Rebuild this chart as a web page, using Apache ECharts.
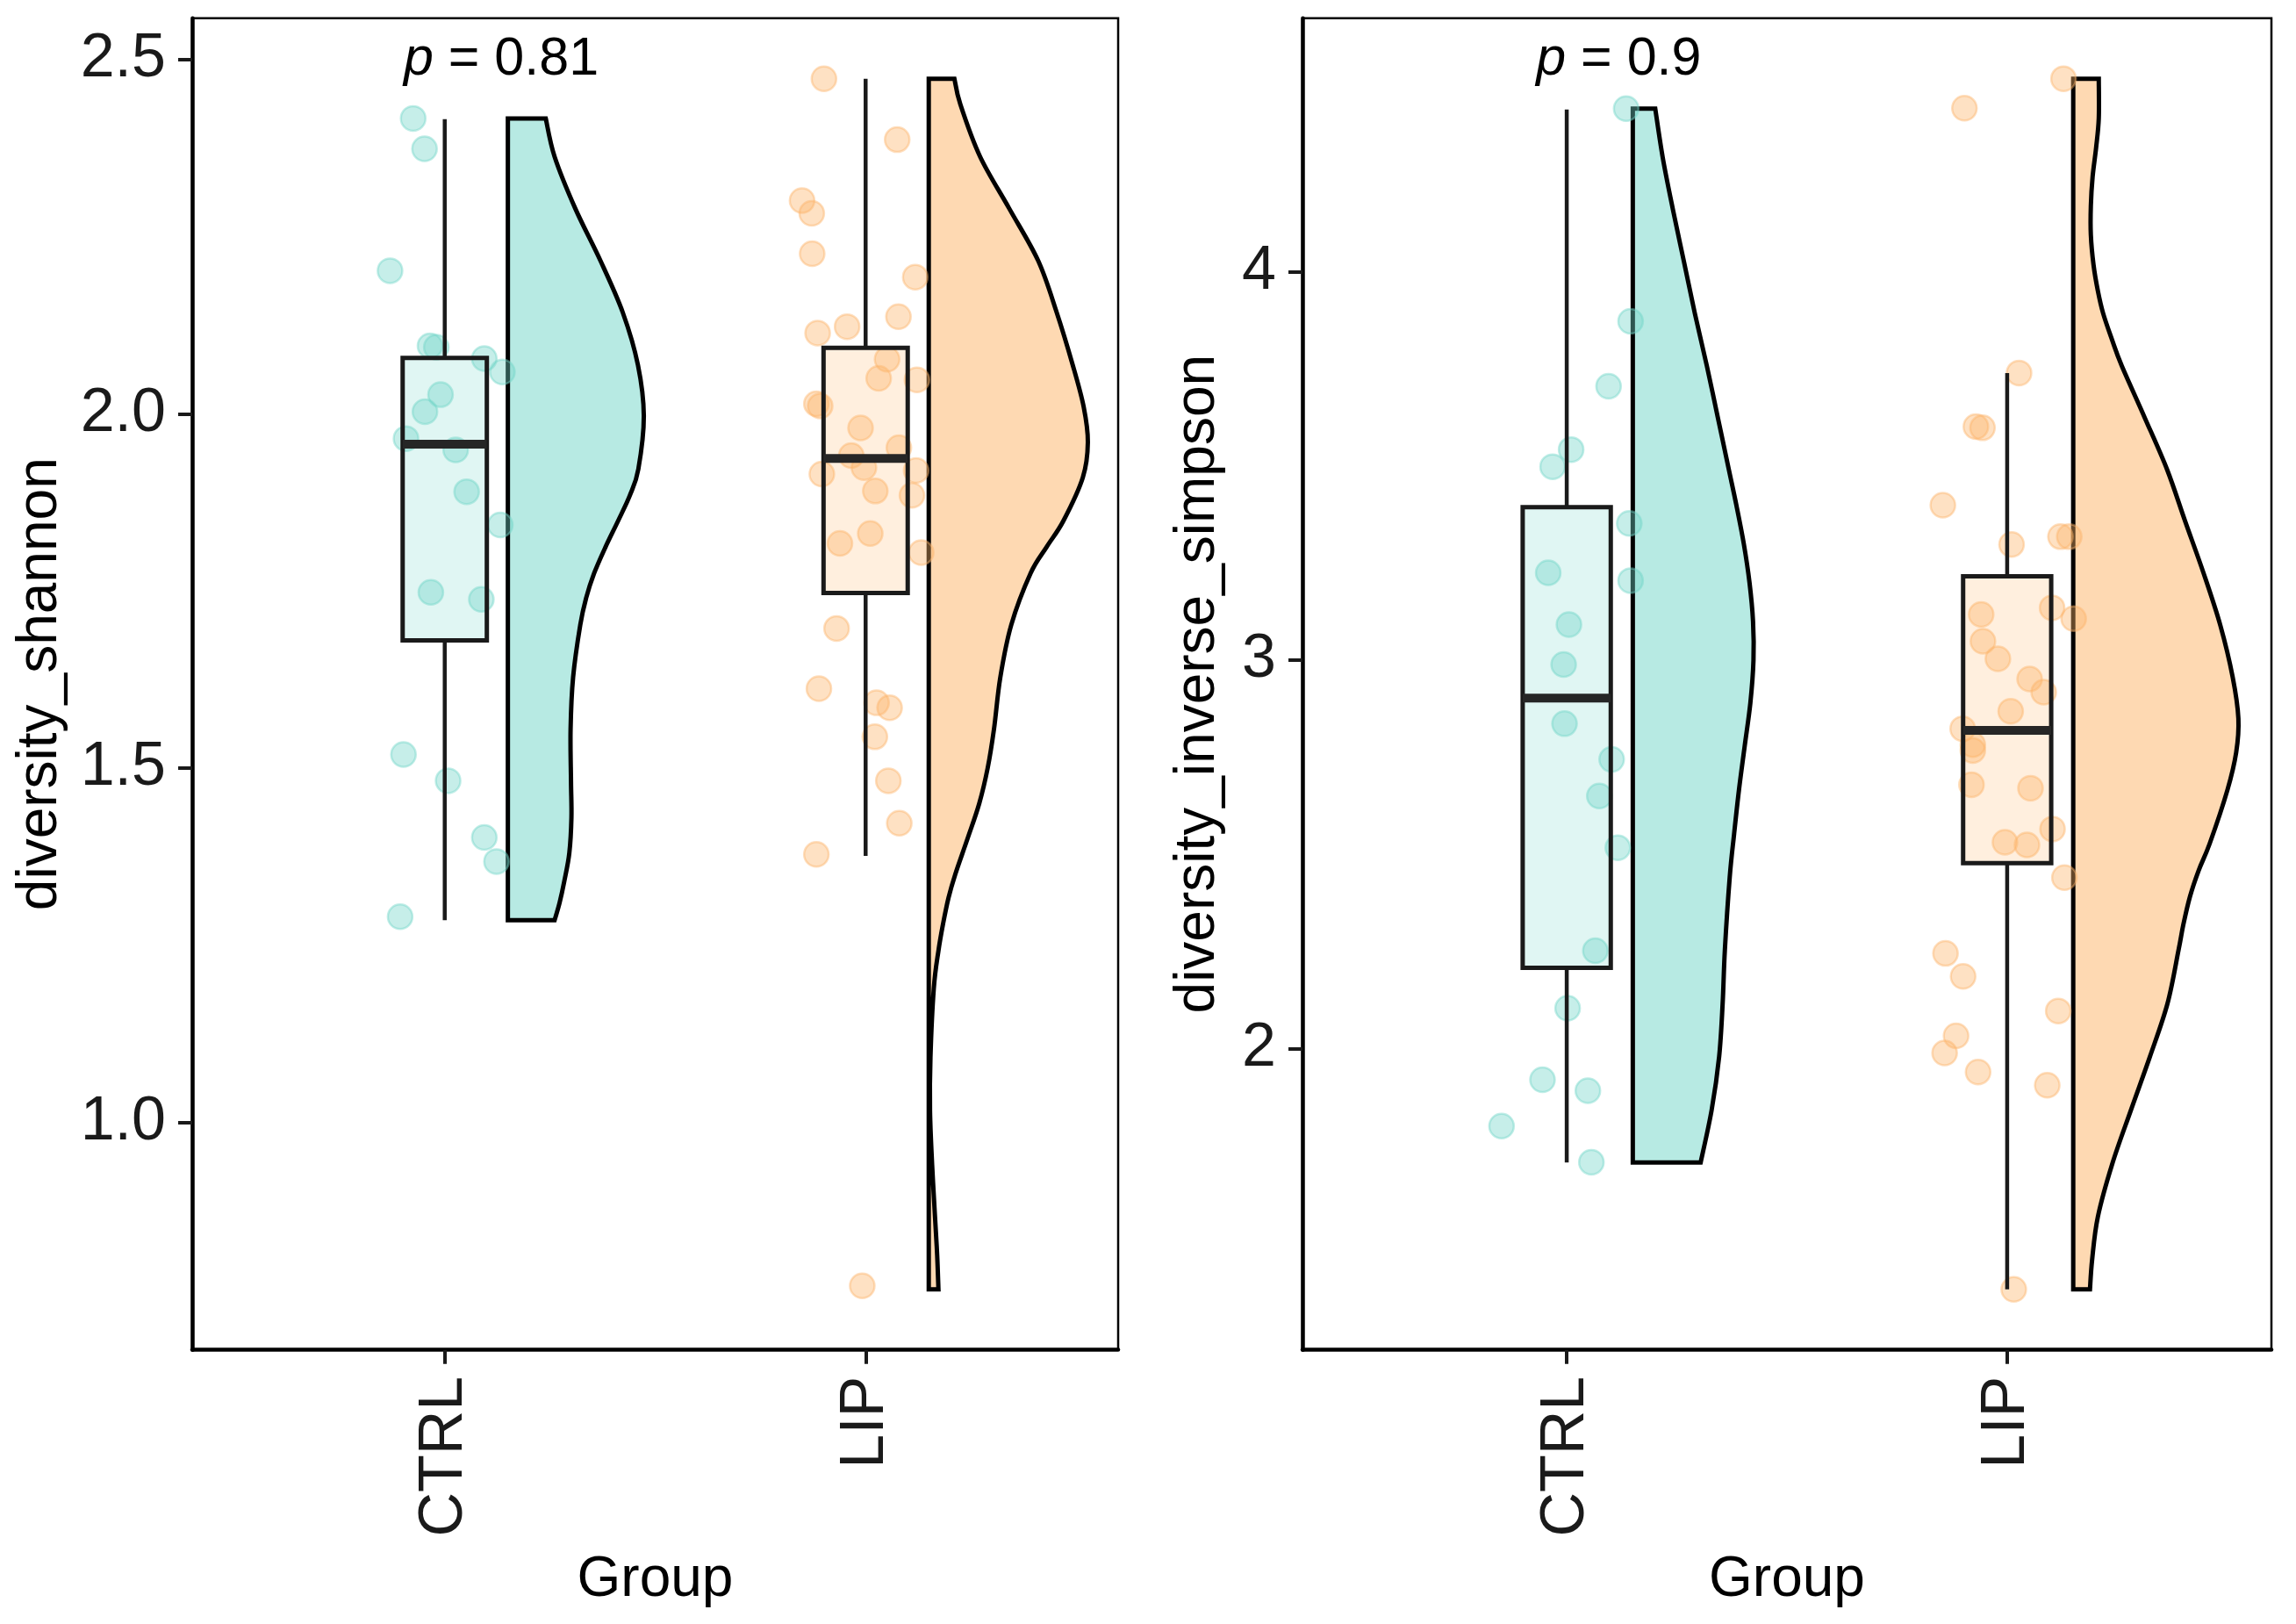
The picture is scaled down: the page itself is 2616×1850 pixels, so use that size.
<!DOCTYPE html>
<html>
<head>
<meta charset="utf-8">
<script src="https://cdn.jsdelivr.net/npm/echarts@6/dist/echarts.min.js"></script>
<style>
html,body{margin:0;padding:0;background:#fff;}
#main{width:2616px;height:1850px;}
</style>
</head>
<body>
<div id="main"></div>
<script>
// ---------------- DATA ----------------
const groups = ['CTRL', 'LIP'];
const groupPos = [1, 2];

// diversity_shannon : jittered points (value, horizontal jitter offset)
const shannonCtrl = [2.417,2.374,2.202,2.096,2.094,2.078,2.059,2.027,2.003,1.965,1.949,1.890,1.843,1.748,1.738,1.519,1.482,1.402,1.368,1.290];
const shannonCtrlJitter = [-0.075,-0.048,-0.130,-0.035,-0.020,0.094,0.137,-0.010,-0.047,-0.092,0.026,0.052,0.132,-0.033,0.087,-0.098,0.008,0.094,0.123,-0.106];
const shannonLip = [2.473,2.387,2.301,2.283,2.226,2.193,2.137,2.123,2.114,2.077,2.050,2.048,2.014,2.011,1.980,1.952,1.941,1.924,1.915,1.920,1.891,1.885,1.831,1.817,1.804,1.697,1.612,1.592,1.585,1.544,1.482,1.422,1.378,0.769];
const shannonLipJitter = [-0.099,0.075,-0.151,-0.128,-0.127,0.118,0.078,-0.044,-0.114,0.051,0.031,0.122,-0.117,-0.108,-0.012,0.079,-0.034,-0.004,-0.104,0.120,0.023,0.110,0.011,-0.061,0.132,-0.069,-0.111,0.026,0.057,0.022,0.054,0.080,-0.117,-0.008];

// diversity_inverse_simpson : jittered points
const simpsonCtrl = [4.419,3.872,3.705,3.542,3.498,3.352,3.225,3.205,3.092,2.989,2.837,2.745,2.651,2.518,2.253,2.105,1.921,1.893,1.802,1.709];
const simpsonCtrlJitter = [0.135,0.145,0.095,0.010,-0.032,0.142,-0.042,0.145,0.005,-0.007,-0.005,0.102,0.074,0.116,0.065,0.002,-0.055,0.048,-0.148,0.056];
const simpsonLip = [4.496,4.420,3.739,3.601,3.598,3.399,3.298,3.318,3.318,3.135,3.118,3.107,3.049,3.004,2.952,2.918,2.869,2.824,2.783,2.768,2.680,2.671,2.566,2.532,2.525,2.441,2.246,2.187,2.098,2.034,1.990,1.941,1.907,1.382];
const simpsonLipJitter = [0.128,-0.097,0.027,-0.071,-0.056,-0.146,0.010,0.121,0.141,0.102,-0.059,0.151,-0.055,-0.021,0.051,0.083,0.008,-0.101,-0.078,-0.078,-0.081,0.053,0.103,-0.005,0.045,0.130,-0.140,-0.100,0.116,-0.116,-0.142,-0.066,0.091,0.015];

// box statistics: [lower whisker, Q1, median, Q3, upper whisker]
const shannonBoxCtrl = [1.285,1.680,1.957,2.079,2.416];
const shannonBoxLip  = [1.376,1.747,1.937,2.093,2.473];
const simpsonBoxCtrl = [1.708,2.209,2.903,3.394,4.417];
const simpsonBoxLip  = [1.382,2.478,2.820,3.216,3.739];

// half-violin outline: value levels and density half-widths (x units)
const shannonCtrlViolinY = [2.417,2.363,2.290,2.216,2.143,2.069,1.997,1.922,1.885,1.849,1.812,1.775,1.740,1.702,1.628,1.555,1.481,1.430,1.380,1.340,1.310,1.285];
const shannonCtrlViolinW = [0.090,0.111,0.160,0.220,0.273,0.309,0.323,0.310,0.290,0.262,0.232,0.205,0.186,0.172,0.155,0.149,0.150,0.151,0.146,0.134,0.123,0.111];
const shannonLipViolinY = [2.473,2.437,2.363,2.290,2.216,2.143,2.069,2.010,1.960,1.910,1.849,1.812,1.775,1.702,1.628,1.555,1.500,1.450,1.400,1.350,1.317,1.280,1.242,1.189,1.091,1.016,0.940,0.865,0.812,0.764];
const shannonLipViolinW = [0.061,0.075,0.122,0.191,0.260,0.304,0.342,0.368,0.378,0.366,0.320,0.280,0.242,0.196,0.170,0.155,0.140,0.120,0.092,0.063,0.047,0.034,0.023,0.012,0.004,0.003,0.008,0.015,0.020,0.023];
const simpsonCtrlViolinY = [4.419,4.293,4.160,4.026,3.892,3.758,3.625,3.491,3.400,3.300,3.200,3.100,3.000,2.891,2.779,2.666,2.553,2.441,2.254,2.117,1.980,1.843,1.708];
const simpsonCtrlViolinW = [0.051,0.068,0.091,0.116,0.141,0.168,0.193,0.218,0.235,0.252,0.265,0.273,0.274,0.267,0.254,0.241,0.230,0.220,0.209,0.204,0.196,0.179,0.154];
const simpsonLipViolinY = [4.496,4.394,4.319,4.244,4.169,4.094,4.018,3.950,3.892,3.825,3.758,3.625,3.491,3.358,3.224,3.090,2.957,2.850,2.763,2.666,2.529,2.460,2.392,2.320,2.254,2.117,1.980,1.843,1.706,1.569,1.459,1.382];
const simpsonLipViolinW = [0.058,0.058,0.052,0.044,0.040,0.040,0.046,0.056,0.068,0.088,0.110,0.162,0.213,0.254,0.296,0.334,0.362,0.375,0.370,0.350,0.310,0.285,0.265,0.250,0.239,0.214,0.174,0.131,0.089,0.056,0.043,0.038];

// axes
const shannonTicks = [1.0, 1.5, 2.0, 2.5];
const simpsonTicks = [2, 3, 4];
const shannonRange = [0.6786, 2.5585];
const simpsonRange = [1.2263, 4.6517];
const pValues = ['0.81', '0.9'];
const yTitles = ['diversity_shannon', 'diversity_inverse_simpson'];
const xTitle = 'Group';

// ---------------- STYLE ----------------
const FONT = "'Liberation Sans', Arial, Helvetica, sans-serif";
const baseRGB = ['113,213,201', '253,181,106'];
const violinFill = ['#B7EAE3', '#FED9B2'];
const boxFill = baseRGB.map(c => 'rgba(' + c + ',0.22)');
const pointFill = baseRGB.map(c => 'rgba(' + c + ',0.5)');
const pointStroke = baseRGB.map(c => 'rgba(' + c + ',0.55)');
const BOX_W = 0.2, VIOLIN_OFF = 0.15;
const INK = '#1a1a1a';

const panels = [
  {
    pts: [[shannonCtrl, shannonCtrlJitter], [shannonLip, shannonLipJitter]],
    box: [shannonBoxCtrl, shannonBoxLip],
    vio: [[shannonCtrlViolinY, shannonCtrlViolinW], [shannonLipViolinY, shannonLipViolinW]],
    ticks: shannonTicks, range: shannonRange, fmt: v => Number(v).toFixed(1),
    grid: {left: 219, top: 20.7, width: 1055, height: 1517},
    nameGap: 173, p: pValues[0], pPos: [1.134, 2.500], title: yTitles[0]
  },
  {
    pts: [[simpsonCtrl, simpsonCtrlJitter], [simpsonLip, simpsonLipJitter]],
    box: [simpsonBoxCtrl, simpsonBoxLip],
    vio: [[simpsonCtrlViolinY, simpsonCtrlViolinW], [simpsonLipViolinY, simpsonLipViolinW]],
    ticks: simpsonTicks, range: simpsonRange, fmt: v => String(Math.round(v)),
    grid: {left: 1484, top: 20.7, width: 1104, height: 1517},
    nameGap: 119, p: pValues[1], pPos: [1.118, 4.545], title: yTitles[1]
  }
];

function violinPath(api, center, ys, ws) {
  const x0 = center + VIOLIN_OFF;
  const pts = ys.map((y, i) => api.coord([x0 + ws[i], y]));
  const b0 = api.coord([x0, ys[0]]);
  const bN = api.coord([x0, ys[ys.length - 1]]);
  let d = 'M' + b0[0] + ',' + b0[1] + ' L' + pts[0][0] + ',' + pts[0][1];
  for (let i = 0; i < pts.length - 1; i++) {
    const p0 = pts[Math.max(i - 1, 0)], p1 = pts[i], p2 = pts[i + 1], p3 = pts[Math.min(i + 2, pts.length - 1)];
    const c1 = [p1[0] + (p2[0] - p0[0]) / 6, p1[1] + (p2[1] - p0[1]) / 6];
    const c2 = [p2[0] - (p3[0] - p1[0]) / 6, p2[1] - (p3[1] - p1[1]) / 6];
    d += ' C' + c1[0] + ',' + c1[1] + ' ' + c2[0] + ',' + c2[1] + ' ' + p2[0] + ',' + p2[1];
  }
  d += ' L' + bN[0] + ',' + bN[1] + ' Z';
  return d;
}

const grids = [], xAxes = [], yAxes = [], series = [];
panels.forEach((P, k) => {
  grids.push(Object.assign({show: true, borderColor: '#000', borderWidth: 2.5, backgroundColor: 'transparent'}, P.grid));
  xAxes.push({
    type: 'value', gridIndex: k, min: 0.4, max: 2.6,
    name: xTitle, nameLocation: 'middle', nameGap: 263,
    nameTextStyle: {fontSize: 64, fontFamily: FONT, color: '#000', verticalAlign: 'middle'},
    axisLine: {show: true, onZero: false, lineStyle: {color: '#000', width: 4.5}},
    axisTick: {show: true, customValues: groupPos, length: 16, lineStyle: {color: INK, width: 4}},
    axisLabel: {show: true, customValues: groupPos, rotate: 90, margin: 30, fontSize: 70, fontFamily: FONT, color: INK,
      formatter: v => groups[Math.round(v) - 1] || ''},
    splitLine: {show: false}
  });
  yAxes.push({
    type: 'value', gridIndex: k, min: P.range[0], max: P.range[1],
    name: P.title, nameLocation: 'middle', nameGap: P.nameGap, nameRotate: 90,
    nameTextStyle: {fontSize: 64, fontFamily: FONT, color: '#000', verticalAlign: 'middle', align: 'center'},
    axisLine: {show: true, onZero: false, lineStyle: {color: '#000', width: 4.5}},
    axisTick: {show: true, customValues: P.ticks, length: 16, lineStyle: {color: INK, width: 4}},
    axisLabel: {show: true, customValues: P.ticks, margin: 30, fontSize: 70, fontFamily: FONT, color: INK, formatter: P.fmt},
    splitLine: {show: false}
  });

  // half violins
  series.push({
    type: 'custom', xAxisIndex: k, yAxisIndex: k, z: 1, silent: true,
    data: groupPos.map((p, g) => [p, P.box[g][2]]),
    renderItem: (params, api) => {
      const g = params.dataIndex;
      return {
        type: 'path',
        shape: {pathData: violinPath(api, groupPos[g], P.vio[g][0], P.vio[g][1])},
        style: {fill: violinFill[g], stroke: '#000', lineWidth: 5, lineJoin: 'miter'}
      };
    }
  });

  // jittered points
  groupPos.forEach((p, g) => {
    const vals = P.pts[g][0], jit = P.pts[g][1];
    series.push({
      type: 'scatter', xAxisIndex: k, yAxisIndex: k, z: 2, silent: true,
      symbol: 'circle', symbolSize: 28,
      itemStyle: {color: pointFill[g], borderColor: pointStroke[g], borderWidth: 2.5},
      data: vals.map((v, i) => [p + jit[i], v])
    });
  });

  // boxplots
  series.push({
    type: 'custom', xAxisIndex: k, yAxisIndex: k, z: 3, silent: true,
    data: groupPos.map((p, g) => [p].concat(P.box[g])),
    encode: {x: 0, y: [1, 2, 3, 4, 5]},
    renderItem: (params, api) => {
      const g = params.dataIndex, c = groupPos[g], s = P.box[g];
      const lo = api.coord([c, s[0]]), q1 = api.coord([c, s[1]]), md = api.coord([c, s[2]]),
            q3 = api.coord([c, s[3]]), hi = api.coord([c, s[4]]);
      const xl = api.coord([c - BOX_W / 2, s[2]])[0], xr = api.coord([c + BOX_W / 2, s[2]])[0];
      return {
        type: 'group',
        children: [
          {type: 'line', shape: {x1: hi[0], y1: hi[1], x2: q3[0], y2: q3[1]}, style: {stroke: INK, lineWidth: 4.5}},
          {type: 'line', shape: {x1: q1[0], y1: q1[1], x2: lo[0], y2: lo[1]}, style: {stroke: INK, lineWidth: 4.5}},
          {type: 'rect', shape: {x: xl, y: q3[1], width: xr - xl, height: q1[1] - q3[1]},
            style: {fill: boxFill[g], stroke: INK, lineWidth: 5}},
          {type: 'line', shape: {x1: xl, y1: md[1], x2: xr, y2: md[1]}, style: {stroke: '#262626', lineWidth: 10}}
        ]
      };
    }
  });

  // p-value annotation
  series.push({
    type: 'custom', xAxisIndex: k, yAxisIndex: k, z: 4, silent: true,
    data: [P.pPos],
    renderItem: (params, api) => {
      const pt = api.coord([api.value(0), api.value(1)]);
      return {
        type: 'text', x: pt[0], y: pt[1],
        style: {
          text: '{i|p} = ' + P.p,
          rich: {i: {fontStyle: 'italic', fontSize: 61, fontFamily: FONT, fill: '#000'}},
          fontSize: 61, fontFamily: FONT, fill: '#000', align: 'center', verticalAlign: 'middle'
        }
      };
    }
  });
});

const chart = echarts.init(document.getElementById('main'), null, {renderer: 'canvas'});
chart.setOption({
  backgroundColor: '#fff',
  animation: false,
  grid: grids, xAxis: xAxes, yAxis: yAxes, series: series
});
</script>
</body>
</html>
